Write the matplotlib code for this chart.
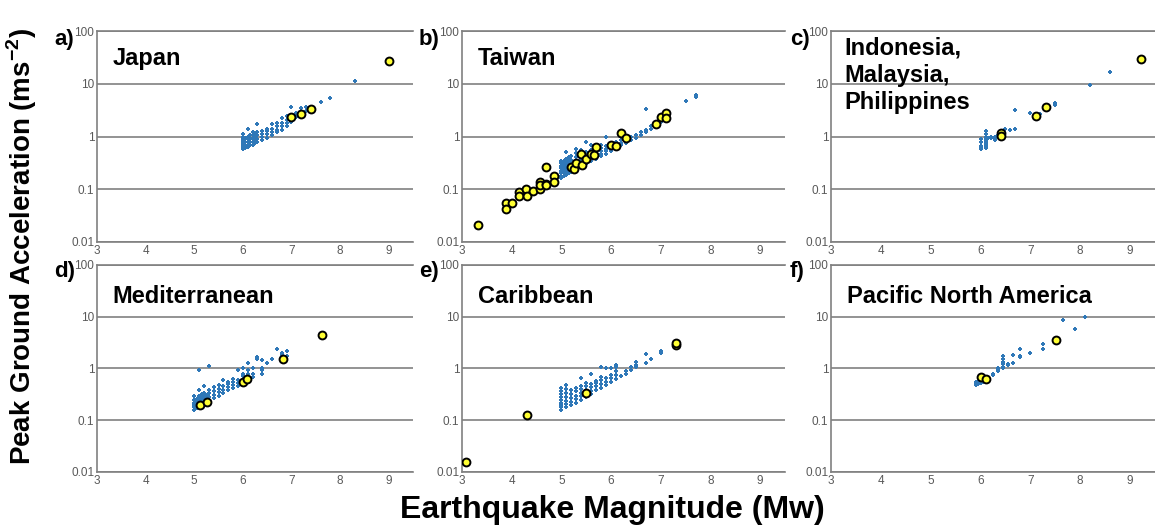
import numpy as np
import matplotlib
matplotlib.use('Agg')
import matplotlib.pyplot as plt

plt.rcParams['font.family'] = ['Liberation Sans', 'DejaVu Sans']
plt.rcParams['mathtext.fontset'] = 'custom'
plt.rcParams['mathtext.rm'] = 'Liberation Sans'
plt.rcParams['mathtext.bf'] = 'Liberation Sans:bold'

# Each blue column: (magnitude, [PGA values in m/s^2])
japan_blue = [
    (6.0, [0.57, 0.62, 0.68, 0.75, 0.82, 0.9, 1.0, 1.1]),
    (6.05, [0.6, 0.7, 0.8, 0.95]),
    (6.1, [0.62, 0.7, 0.78, 0.88, 1.0, 1.4]),
    (6.15, [0.68, 0.78, 0.9, 1.05]),
    (6.2, [0.7, 0.8, 0.92, 1.05, 1.2]),
    (6.25, [0.75, 0.85, 1.0, 1.1]),
    (6.3, [0.78, 0.9, 1.05, 1.2, 1.75]),
    (6.4, [0.85, 0.98, 1.1, 1.25]),
    (6.5, [0.95, 1.1, 1.25, 1.4]),
    (6.6, [1.05, 1.2, 1.4, 1.75]),
    (6.7, [1.2, 1.35, 1.55, 1.8]),
    (6.8, [1.35, 1.55, 1.8, 2.2]),
    (6.9, [1.55, 1.8, 2.1, 2.5]),
    (7.0, [1.9, 2.2, 3.6]),
    (7.1, [2.3, 2.8]),
    (7.2, [2.7, 3.5]),
    (7.3, [3.0, 3.6]),
    (7.6, [4.6]),
    (7.8, [5.3]),
    (8.3, [11.5]),
]
japan_yellow_m = [7.0, 7.2, 7.4, 9.0]
japan_yellow_pga = [2.3, 2.65, 3.3, 27]

taiwan_blue = [
    (5.0, [0.16, 0.18, 0.2, 0.22, 0.25, 0.28, 0.31, 0.35]),
    (5.05, [0.18, 0.21, 0.24, 0.27, 0.3, 0.34]),
    (5.1, [0.19, 0.22, 0.25, 0.28, 0.32, 0.37, 0.5]),
    (5.15, [0.2, 0.23, 0.26, 0.3, 0.34, 0.4]),
    (5.2, [0.21, 0.24, 0.28, 0.32, 0.36, 0.42]),
    (5.3, [0.23, 0.27, 0.31, 0.35, 0.4, 0.48, 0.58]),
    (5.4, [0.26, 0.3, 0.34, 0.38, 0.44, 0.55]),
    (5.5, [0.3, 0.34, 0.38, 0.43, 0.5, 0.8]),
    (5.6, [0.34, 0.38, 0.43, 0.48, 0.56, 0.7]),
    (5.7, [0.38, 0.42, 0.47, 0.53, 0.6]),
    (5.8, [0.42, 0.47, 0.52, 0.6, 0.68]),
    (5.9, [0.46, 0.52, 0.58, 0.65, 1.0]),
    (6.0, [0.52, 0.58, 0.65, 0.72]),
    (6.1, [0.58, 0.65, 0.72, 0.8]),
    (6.2, [0.68, 0.75, 0.85]),
    (6.3, [0.75, 0.85, 0.95]),
    (6.4, [0.85, 1.0]),
    (6.5, [0.95, 1.05]),
    (6.6, [1.05, 1.2]),
    (6.7, [1.2, 1.35, 3.35]),
    (6.8, [1.4, 1.6]),
    (6.9, [1.6, 1.9]),
    (7.0, [1.9, 2.1]),
    (7.5, [4.7]),
    (7.7, [5.5, 6.0]),
]
taiwan_yellow_m = [3.32, 3.88, 3.88, 4.0, 4.15, 4.15, 4.29, 4.3, 4.42, 4.56, 4.56, 4.57,
                   4.69, 4.7, 4.7, 4.85, 4.85, 5.19, 5.25, 5.3, 5.39, 5.41, 5.5, 5.59,
                   5.66, 5.7, 6.0, 6.1, 6.2, 6.3, 6.9, 7.0, 7.1, 7.1]
taiwan_yellow_pga = [0.021, 0.056, 0.043, 0.056, 0.088, 0.074, 0.103, 0.074, 0.094, 0.14, 0.103, 0.12,
                     0.26, 0.128, 0.12, 0.18, 0.14, 0.26, 0.24, 0.31, 0.46, 0.29, 0.38, 0.46,
                     0.44, 0.64, 0.69, 0.66, 1.17, 0.94, 1.76, 2.32, 2.85, 2.25]

indo_blue = [
    (6.0, [0.57, 0.6, 0.65, 0.78, 0.9]),
    (6.1, [0.6, 0.65, 0.7, 0.75, 0.8, 0.85, 0.9, 1.0, 1.1, 1.25]),
    (6.15, [0.95]),
    (6.2, [0.95, 1.0]),
    (6.3, [0.85, 0.92, 1.0]),
    (6.35, [1.05]),
    (6.5, [1.4]),
    (6.6, [1.3]),
    (6.7, [1.38, 3.15]),
    (7.0, [2.8]),
    (7.2, [2.7]),
    (7.5, [4.0, 4.4]),
    (8.2, [9.4]),
    (8.6, [17]),
]
indo_yellow_m = [6.42, 6.42, 7.11, 7.31, 9.21]
indo_yellow_pga = [1.14, 1.01, 2.4, 3.6, 30]

med_blue = [
    (5.0, [0.16, 0.18, 0.2, 0.22, 0.25, 0.29]),
    (5.05, [0.17, 0.2, 0.23, 0.26]),
    (5.1, [0.18, 0.21, 0.25, 0.3, 0.38, 0.95]),
    (5.15, [0.2, 0.23, 0.27, 0.32]),
    (5.2, [0.21, 0.25, 0.29, 0.34, 0.45]),
    (5.25, [0.23, 0.27, 0.31]),
    (5.3, [0.24, 0.28, 0.33, 0.38, 1.1]),
    (5.4, [0.27, 0.31, 0.36, 0.43]),
    (5.5, [0.3, 0.35, 0.4, 0.47]),
    (5.6, [0.34, 0.39, 0.45, 0.6]),
    (5.7, [0.38, 0.43, 0.5, 0.55]),
    (5.8, [0.42, 0.48, 0.55, 0.62]),
    (5.9, [0.45, 0.52, 0.6, 0.95]),
    (6.0, [0.5, 0.6, 0.72, 0.8, 1.0]),
    (6.1, [0.6, 0.7, 0.78, 0.95, 1.25]),
    (6.2, [0.7, 0.8, 1.0]),
    (6.3, [1.5, 1.7]),
    (6.4, [0.8, 0.92, 1.0, 1.45]),
    (6.5, [1.3]),
    (6.6, [1.55]),
    (6.7, [2.4]),
    (6.8, [1.8, 2.0]),
    (6.9, [1.75, 2.2]),
]
med_yellow_m = [5.11, 5.26, 6.01, 6.08, 6.82, 7.62]
med_yellow_pga = [0.195, 0.23, 0.55, 0.64, 1.56, 4.4]

carib_blue = [
    (5.0, [0.16, 0.18, 0.2, 0.22, 0.25, 0.28, 0.32, 0.37, 0.42]),
    (5.1, [0.18, 0.21, 0.24, 0.28, 0.33, 0.4, 0.47]),
    (5.2, [0.2, 0.23, 0.27, 0.32, 0.38]),
    (5.3, [0.22, 0.26, 0.3, 0.36, 0.42]),
    (5.4, [0.25, 0.29, 0.34, 0.4, 0.46, 0.65]),
    (5.5, [0.28, 0.33, 0.38, 0.45, 0.52]),
    (5.6, [0.32, 0.37, 0.43, 0.5, 0.78]),
    (5.7, [0.38, 0.45, 0.52, 0.58]),
    (5.8, [0.42, 0.5, 0.6, 0.7, 1.05]),
    (5.9, [0.47, 0.55, 0.65, 1.0]),
    (6.0, [0.55, 0.65, 0.75, 1.0]),
    (6.1, [0.62, 0.75, 0.9, 1.05, 1.15]),
    (6.2, [0.72]),
    (6.3, [0.8, 0.9]),
    (6.4, [0.95, 1.05]),
    (6.5, [1.05, 1.15, 1.35]),
    (6.7, [1.3, 1.9]),
    (6.8, [1.55]),
    (7.0, [2.0, 2.2]),
]
carib_yellow_m = [3.09, 4.3, 5.49, 7.3, 7.3]
carib_yellow_pga = [0.0155, 0.125, 0.33, 2.85, 3.1]

pna_blue = [
    (5.9, [0.48, 0.52, 0.56]),
    (5.95, [0.5, 0.55]),
    (6.0, [0.52, 0.58]),
    (6.05, [0.55, 0.6]),
    (6.15, [0.62]),
    (6.25, [0.75, 0.8]),
    (6.35, [0.88, 0.95, 1.02]),
    (6.45, [1.0, 1.08, 1.2, 1.35, 1.55, 1.75]),
    (6.55, [1.15, 1.2]),
    (6.65, [1.3, 1.8]),
    (6.8, [1.68, 1.75, 2.35]),
    (7.0, [2.0]),
    (7.25, [2.35, 2.95]),
    (7.65, [8.8]),
    (7.9, [5.8]),
    (8.1, [9.8]),
]
pna_yellow_m = [6.0, 6.11, 7.51]
pna_yellow_pga = [0.69, 0.64, 3.5]

panels = [
    ('a)', 'Japan', japan_blue, japan_yellow_m, japan_yellow_pga),
    ('b)', 'Taiwan', taiwan_blue, taiwan_yellow_m, taiwan_yellow_pga),
    ('c)', 'Indonesia,\nMalaysia,\nPhilippines', indo_blue, indo_yellow_m, indo_yellow_pga),
    ('d)', 'Mediterranean', med_blue, med_yellow_m, med_yellow_pga),
    ('e)', 'Caribbean', carib_blue, carib_yellow_m, carib_yellow_pga),
    ('f)', 'Pacific North America', pna_blue, pna_yellow_m, pna_yellow_pga),
]

W, H = 1155, 531
# axes boxes in pixels: left, right, top, bottom
col_lr = [(97, 413), (462, 785), (831, 1155)]
row_tb = [(31, 242), (265, 472)]
label_x = [54, 419, 790]
label_y = [39, 271]

grey = '#808080'
blue = '#2f78b8'

fig = plt.figure(figsize=(W / 100, H / 100), dpi=100)

for i, (tag, name, blue_cols, ym, ypga) in enumerate(panels):
    r, c = divmod(i, 3)
    l, rr = col_lr[c]
    t, b = row_tb[r]
    ax = fig.add_axes([l / W, 1 - b / H, (rr - l) / W, (b - t) / H])

    bm = [m for m, vals in blue_cols for _ in vals]
    bp = [v for m, vals in blue_cols for v in vals]
    ax.scatter(bm, bp, s=10, marker='P', color=blue, linewidths=0, zorder=3)
    ax.scatter(ym, ypga, s=32, marker='o', facecolor='#ffff33', edgecolor='black',
               linewidths=1.4, zorder=4)

    ax.set_yscale('log')
    ax.set_xlim(3, 9.5)
    ax.set_ylim(0.01, 100)
    ax.set_xticks(range(3, 10))
    ax.set_yticks([0.01, 0.1, 1, 10, 100])
    ax.set_yticklabels(['0.01', '0.1', '1', '10', '100'])
    ax.minorticks_off()
    ax.tick_params(axis='both', length=0, labelsize=8.5, labelcolor='#595959', pad=2)
    ax.grid(axis='y', color=grey, linewidth=1.2)
    for side in ['left', 'bottom', 'top']:
        ax.spines[side].set_color(grey)
        ax.spines[side].set_linewidth(1.2)
    ax.spines['right'].set_visible(False)
    ax.set_axisbelow(True)

    if '\n' in name:
        ax.text(0.04, 0.975, name, transform=ax.transAxes, fontsize=17,
                fontweight='bold', va='top', linespacing=1.25)
    else:
        ax.text(0.05, 0.87 if r == 0 else 0.85, name, transform=ax.transAxes,
                fontsize=17, fontweight='bold', va='center')
    fig.text(label_x[c] / W, 1 - label_y[r] / H, tag, fontsize=16, fontweight='bold',
             va='center', ha='left')

fig.text(22 / W, 0.535, 'Peak Ground Acceleration (ms$^{\\mathbf{-2}}$)', rotation=90,
         fontsize=20, fontweight='bold', ha='center', va='center')
fig.text(0.53, 0.04, 'Earthquake Magnitude (Mw)', fontsize=23, fontweight='bold',
         ha='center', va='center')

fig.savefig('out.png', dpi=100)
